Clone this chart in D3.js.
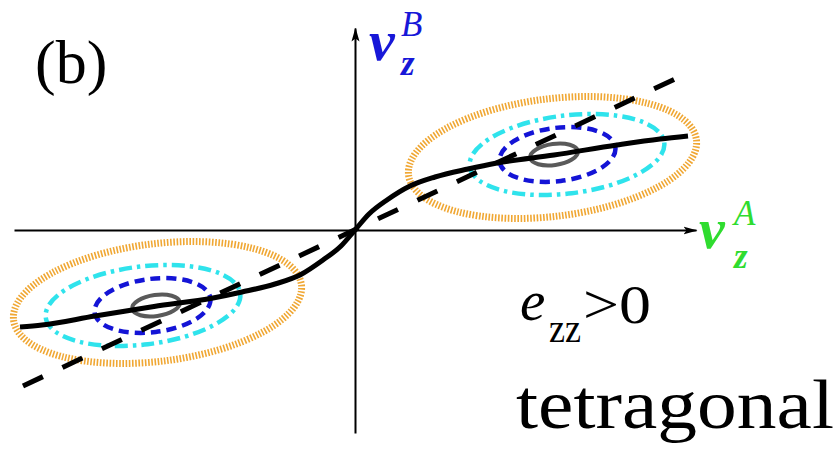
<!DOCTYPE html>
<html>
<head>
<meta charset="utf-8">
<script src="https://cdn.jsdelivr.net/npm/d3@7"></script>
<style>
  html, body { margin: 0; padding: 0; background: #fff; }
  svg { display: block; }
</style>
</head>
<body>
<svg id="chart" width="840" height="451"></svg>
<script>
// Axis extents (arbitrary units, 1 unit = 100 px)
const xDomain = [-3.41, 3.41];
const yDomain = [-2.03, 2.02];

// Two clusters of concentric ellipses, one per quadrant
const clusterSigns = [1, -1];
const ringNames  = ["outer", "middle", "inner", "core"];
const ringCx     = [1.975, 2.12, 2.025, 1.99];
const ringCy     = [0.725, 0.755, 0.755, 0.755];
const ringRx     = [1.45, 0.98, 0.583, 0.24];
const ringRy     = [0.588, 0.39, 0.267, 0.105];
const ringTilt   = [7, 7, 7, 8];           // degrees
const ringColors = ["#f0a733", "#2fe3ec", "#1414d6", "#5a5a5a"];
const ringWidths = [7, 4.5, 4.5, 4];
const ringDashes = ["1.6,1.6", "13,5,3.5,5", "10,6", null];

// Solid S-shaped response curve
const curveX = [-3.35, -3.13, -2.6, -2.01, -1.42, -1.13, -0.8, -0.55, -0.32, -0.14, 0, 0.14, 0.32, 0.55, 0.8, 1.13, 1.42, 1.99, 2.62, 3.05, 3.33];
const curveY = [-0.97, -0.95, -0.86, -0.765, -0.68, -0.62, -0.54, -0.45, -0.30, -0.16, 0, 0.16, 0.30, 0.44, 0.53, 0.61, 0.67, 0.75, 0.85, 0.91, 0.94];

// Straight dashed reference line
const lineX = [-3.32, 3.20];
const lineY = [-1.56, 1.51];

const svg = d3.select("#chart");
const x = d3.scaleLinear().domain(xDomain).range([14, 696]);
const y = d3.scaleLinear().domain(yDomain).range([433, 28]);

// Arrow heads
const defs = svg.append("defs");
defs.append("marker")
  .attr("id", "arrow")
  .attr("markerUnits", "userSpaceOnUse")
  .attr("viewBox", "0 0 14 10")
  .attr("refX", 13).attr("refY", 5)
  .attr("markerWidth", 14).attr("markerHeight", 10)
  .attr("orient", "auto")
  .append("path")
  .attr("d", "M0,1 L14,5 L0,9 L3,5 Z")
  .attr("fill", "#000");

// Axes through the origin, no ticks
const gx = svg.append("g")
  .attr("transform", `translate(0,${y(0)})`)
  .call(d3.axisBottom(x).tickValues([]).tickSizeOuter(0));
const gy = svg.append("g")
  .attr("transform", `translate(${x(0)},0)`)
  .call(d3.axisLeft(y).tickValues([]).tickSizeOuter(0));
[gx, gy].forEach(g => g.select(".domain")
  .attr("stroke", "#000")
  .attr("stroke-width", 2)
  .attr("marker-end", "url(#arrow)"));

// Ellipse clusters
const rings = [];
clusterSigns.forEach(s => {
  ringNames.forEach((n, i) => rings.push({
    name: n, cx: s * ringCx[i], cy: s * ringCy[i],
    rx: ringRx[i], ry: ringRy[i], tilt: ringTilt[i],
    color: ringColors[i], width: ringWidths[i], dash: ringDashes[i]
  }));
});
svg.append("g").selectAll("ellipse")
  .data(rings)
  .join("ellipse")
  .attr("transform", d => `translate(${x(d.cx)},${y(d.cy)}) rotate(${-d.tilt})`)
  .attr("rx", d => x(d.rx) - x(0))
  .attr("ry", d => y(0) - y(d.ry))
  .attr("fill", "none")
  .attr("stroke", d => d.color)
  .attr("stroke-width", d => d.width)
  .attr("stroke-dasharray", d => d.dash);

// Dashed straight line
svg.append("path")
  .datum(d3.zip(lineX, lineY))
  .attr("d", d3.line().x(d => x(d[0])).y(d => y(d[1])))
  .attr("fill", "none")
  .attr("stroke", "#000")
  .attr("stroke-width", 5)
  .attr("stroke-dasharray", "22,21.6");

// Solid curve
svg.append("path")
  .datum(d3.zip(curveX, curveY))
  .attr("d", d3.line().x(d => x(d[0])).y(d => y(d[1])).curve(d3.curveMonotoneX))
  .attr("fill", "none")
  .attr("stroke", "#000")
  .attr("stroke-width", 5)
  .attr("stroke-linecap", "butt");

// Labels
const serif = "'Liberation Serif', 'Times New Roman', Times, 'DejaVu Serif', serif";

// A label built from runs: [text, x, y, size, italic, bold, textLength]
function label(runs, color) {
  const t = svg.append("text")
    .style("font-family", serif)
    .attr("fill", color || "#000");
  runs.forEach(([s, px, py, size, it, bd, len]) => {
    const sp = t.append("tspan")
      .attr("x", px).attr("y", py)
      .attr("font-size", size)
      .attr("font-style", it ? "italic" : "normal")
      .attr("font-weight", bd ? "bold" : "normal")
      .text(s);
    if (len) sp.attr("textLength", len).attr("lengthAdjust", "spacingAndGlyphs");
  });
  return t;
}

label([["(b)", 35, 83, 62]]);

const blue = "#1717d8", green = "#2fdc2f";
label([["v", 369, 60, 58, true, true],
       ["B", 401, 36, 35, true, false],
       ["z", 401, 75, 35, true, true]], blue);

label([["v", 699, 248, 58, true, true],
       ["A", 734, 225, 35, true, false],
       ["z", 734, 268, 35, true, true]], green);

label([["e", 520, 320, 57, true, false],
       ["zz", 549, 342, 40, false, false, 32],
       [">0", 583, 323, 54, false, false, 68]]);

label([["tetragonal", 516, 428, 70, false, false, 318]]);
</script>
</body>
</html>
